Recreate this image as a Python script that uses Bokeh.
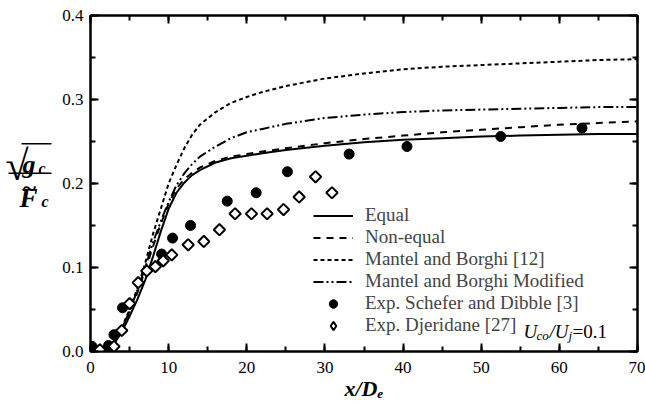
import math
from bokeh.plotting import figure
from bokeh.layouts import row
from bokeh.models import (LinearAxis, SingleIntervalTicker, NumeralTickFormatter, Range1d,
                          Legend, LegendItem, Label, CustomJSTickFormatter)
from bokeh.core.properties import value
from bokeh.embed import file_html
from bokeh.resources import INLINE

# ---- data ----
x_curve = [0, 1, 2, 3, 4, 5, 6, 7, 8, 9, 10, 11, 12, 13, 14, 16, 18, 20, 22, 25, 30, 35, 40, 45, 50, 55, 60, 65, 70]
y_equal = [0, 0, 0.002, 0.009, 0.023, 0.042, 0.062, 0.085, 0.113, 0.143, 0.170, 0.189, 0.201, 0.210, 0.216, 0.225, 0.230, 0.233, 0.236, 0.240, 0.245, 0.249, 0.252, 0.254, 0.256, 0.257, 0.258, 0.259, 0.259]
y_nonequal = [0, 0, 0.003, 0.011, 0.026, 0.047, 0.070, 0.097, 0.125, 0.152, 0.176, 0.194, 0.205, 0.213, 0.219, 0.227, 0.232, 0.235, 0.238, 0.242, 0.248, 0.253, 0.257, 0.261, 0.264, 0.267, 0.270, 0.272, 0.274]
y_mantel = [0, 0, 0.003, 0.012, 0.028, 0.050, 0.075, 0.105, 0.140, 0.170, 0.200, 0.222, 0.242, 0.258, 0.270, 0.285, 0.296, 0.303, 0.309, 0.316, 0.325, 0.331, 0.336, 0.339, 0.341, 0.343, 0.345, 0.347, 0.348]
y_modified = [0, 0, 0.003, 0.011, 0.027, 0.048, 0.073, 0.100, 0.130, 0.155, 0.178, 0.198, 0.212, 0.223, 0.232, 0.244, 0.254, 0.261, 0.265, 0.271, 0.278, 0.282, 0.285, 0.287, 0.288, 0.289, 0.290, 0.291, 0.291]

x_schefer = [0.2, 2.3, 3.0, 4.1, 9.1, 10.5, 12.8, 17.5, 21.2, 25.2, 33.1, 40.5, 52.5, 62.9]
y_schefer = [0.006, 0.007, 0.020, 0.052, 0.116, 0.135, 0.150, 0.179, 0.189, 0.214, 0.235, 0.244, 0.256, 0.266]

x_djeridane = [1.2, 3.0, 4.0, 5.0, 6.1, 7.2, 8.3, 9.3, 10.4, 12.5, 14.5, 16.5, 18.5, 20.6, 22.6, 24.7, 26.7, 28.8, 30.9]
y_djeridane = [0.002, 0.006, 0.025, 0.057, 0.082, 0.096, 0.101, 0.108, 0.115, 0.127, 0.131, 0.145, 0.164, 0.164, 0.164, 0.169, 0.184, 0.208, 0.189]

legend_labels = ["Equal", "Non-equal", "Mantel and Borghi [12]", "Mantel and Borghi Modified",
                 "Exp. Schefer and Dibble [3]", "Exp. Djeridane [27]"]
x_label = "x/D\u2091"

SERIF = "Liberation Serif"
LEFT_W = 58
MAIN_W = 587
MAIN_H = 406
LABEL_H = 382   # height used for the y-label panel coordinates

p = figure(width=MAIN_W, height=MAIN_H, min_border_left=32, min_border_right=8,
           min_border_top=15, min_border_bottom=55,
           x_range=Range1d(0, 70), y_range=Range1d(0, 0.4),
           x_axis_type=None, y_axis_type=None, title=None,
           output_backend="svg", toolbar_location=None)
p.outline_line_color = "black"
p.outline_line_width = 2
p.background_fill_color = "white"
p.border_fill_color = "white"


def make_axis(interval, labels=True, fmt=None, standoff=5):
    ax = LinearAxis(ticker=SingleIntervalTicker(interval=interval, num_minor_ticks=2))
    ax.axis_line_width = 2
    ax.major_tick_in = 8
    ax.major_tick_out = 0
    ax.minor_tick_in = 5
    ax.minor_tick_out = 0
    ax.major_tick_line_width = 2
    ax.minor_tick_line_width = 2
    ax.major_label_text_font = SERIF
    ax.major_label_text_font_size = "17px"
    ax.major_label_text_color = "black"
    ax.major_label_standoff = standoff if labels else 0
    if not labels:
        ax.formatter = CustomJSTickFormatter(code="return '';")
    elif fmt:
        ax.formatter = fmt
    return ax


xaxis = make_axis(10, standoff=10)
xaxis.axis_label = x_label
xaxis.axis_label_text_font = SERIF
xaxis.axis_label_text_font_style = "bold italic"
xaxis.axis_label_text_font_size = "22px"
xaxis.axis_label_text_color = "black"
xaxis.axis_label_standoff = 0
p.add_layout(xaxis, "below")
p.add_layout(make_axis(0.1, fmt=NumeralTickFormatter(format="0.0"), standoff=7), "left")
p.add_layout(make_axis(10, labels=False), "above")
p.add_layout(make_axis(0.1, labels=False), "right")

r_eq = p.line(x_curve, y_equal, line_color="black", line_width=2)
r_ne = p.line(x_curve, y_nonequal, line_color="black", line_width=2, line_dash="7 6")
r_mb = p.line(x_curve, y_mantel, line_color="black", line_width=2, line_dash="4 3")
r_mm = p.line(x_curve, y_modified, line_color="black", line_width=2, line_dash="10 3 2 3 2 3")
r_sc = p.scatter(x_schefer, y_schefer, marker="circle", size=10, fill_color="black", line_color="black")
p.scatter(x_djeridane, y_djeridane, marker="square", angle=math.pi / 4, size=8,
          fill_color="white", line_color="black", line_width=2)
# legend key for the diamonds (the legend does not rotate markers); hidden in the plot
r_dj_key = p.scatter(x_djeridane, y_djeridane, marker="diamond", size=10, fill_color="white",
                     line_color="black", line_width=2, visible=False)

legend = Legend(items=[LegendItem(label=l, renderers=[r]) for l, r in
                       zip(legend_labels, [r_eq, r_ne, r_mb, r_mm, r_sc, r_dj_key])],
                location=(223, 15))
legend.label_text_font = SERIF
legend.label_text_font_size = "19px"
legend.glyph_width = 40
legend.glyph_height = 21
legend.label_height = 21
legend.label_standoff = 12
legend.spacing = 0
legend.padding = 0
legend.margin = 0
legend.border_line_color = None
legend.background_fill_alpha = 0
legend.inactive_fill_alpha = 0
p.add_layout(legend)


def lab(text, x, y, size, style="normal"):
    p.add_layout(Label(x=x, y=y, x_units="screen", y_units="screen", text=text,
                       text_font=SERIF, text_font_size=size, text_font_style=style,
                       text_baseline="alphabetic", text_color="black"))


# italic part of the last legend entry
ux, uy = 433, 20
lab("U", ux, uy, "19px", "italic")
lab("co", ux + 13, uy - 4, "13px", "italic")
lab("/U", ux + 26, uy, "19px", "italic")
lab("j", ux + 45, uy - 4, "13px", "italic")
lab("=0.1", ux + 49, uy, "19px")


def ltext(fig, total_h, text, x, page_y, size, style="normal"):
    fig.text(x=[x], y=[total_h - page_y], text=[text], text_font=value(SERIF),
             text_font_size=size, text_font_style=style, text_baseline="alphabetic",
             text_color="black")


# ---- left panel: y-axis label sqrt(g_c) / F~_c ----
pl = figure(width=LEFT_W, height=LABEL_H, x_range=Range1d(0, LEFT_W), y_range=Range1d(0, LABEL_H),
            x_axis_type=None, y_axis_type=None, title=None, output_backend="svg",
            toolbar_location=None, min_border=0)
pl.outline_line_color = None
pl.grid.visible = False

ltext(pl, LABEL_H, "\u221a", 5, 184, "42px")
ltext(pl, LABEL_H, "g", 22, 182, "26px", "bold italic")
ltext(pl, LABEL_H, "c", 38, 187, "16px", "bold italic")
ltext(pl, LABEL_H, "~", 22, 212, "26px", "bold")
ltext(pl, LABEL_H, "F", 19, 223, "27px", "bold italic")
ltext(pl, LABEL_H, "c", 41, 228, "16px", "bold italic")
pl.segment(x0=[21, 8], y0=[LABEL_H - 157, LABEL_H - 193], x1=[51, 51], y1=[LABEL_H - 157, LABEL_H - 193],
           line_color="black", line_width=1.5)

layout = row(pl, p)
open("out.html", "w").write(file_html(layout, INLINE))
